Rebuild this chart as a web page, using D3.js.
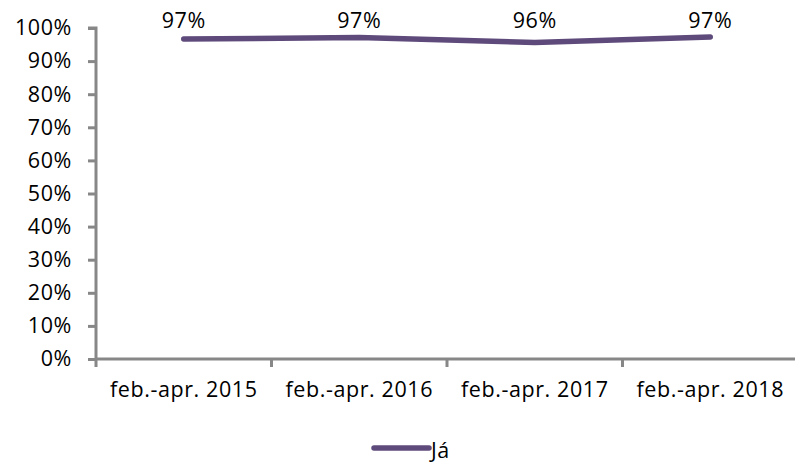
<!DOCTYPE html>
<html><head><meta charset="utf-8">
<script src="https://cdn.jsdelivr.net/npm/d3@7"></script>
<style>body{margin:0;background:#fff}</style>
</head><body>
<script>
const categories = ["feb.-apr. 2015","feb.-apr. 2016","feb.-apr. 2017","feb.-apr. 2018"];
const values = [0.967, 0.971, 0.956, 0.973];
const labels = ["97%","97%","96%","97%"];
const yTicks = [0,0.1,0.2,0.3,0.4,0.5,0.6,0.7,0.8,0.9,1.0];
const seriesName = "Já";

const W=795,H=464, FONT="'Open Sans', sans-serif", FS=21.5, LS=0.6;
const svg=d3.select("body").append("svg").attr("width",W).attr("height",H);
const x=d3.scaleBand().domain(categories).range([96,798]);
const y=d3.scaleLinear().domain([0,1]).range([359,28]);
const color="#5f4b7b", axisColor="#878787";
function styleText(sel){sel.attr("font-size",FS).attr("font-family",FONT).attr("fill","#000").attr("letter-spacing",LS);}

// y axis
const ya=svg.append("g").attr("transform","translate(96,0)")
  .call(d3.axisLeft(y).tickValues(yTicks).tickFormat(d3.format(".0%")).tickSize(8).tickPadding(16));
ya.select(".domain").attr("stroke",axisColor).attr("stroke-width",3).attr("d","M-8,"+y(1)+"H0V"+y(0));
ya.selectAll(".tick line").attr("stroke",axisColor).attr("stroke-width",3);
ya.selectAll(".tick text").call(styleText);

// x axis
const xa=svg.append("g").attr("transform","translate(0,359)")
  .call(d3.axisBottom(x).tickSize(0).tickPadding(23));
xa.select(".domain").attr("stroke",axisColor).attr("stroke-width",3).attr("d","M96,0H798");
xa.selectAll(".tick text").call(styleText);
svg.append("g").selectAll("line").data(categories.concat(["_end"])).join("line")
  .attr("x1",(d,i)=>96+i*x.step()).attr("x2",(d,i)=>96+i*x.step())
  .attr("y1",359).attr("y2",367).attr("stroke",axisColor).attr("stroke-width",3);

// line
const cx=d=>x(d)+x.bandwidth()/2;
svg.append("path").datum(categories)
  .attr("d",d3.line().x(d=>cx(d)).y((d,i)=>y(values[i])))
  .attr("fill","none").attr("stroke",color).attr("stroke-width",5.5).attr("stroke-linecap","round").attr("stroke-linejoin","round");

// data labels
svg.append("g").selectAll("text").data(categories).join("text")
  .attr("x",d=>cx(d)).attr("y",28).attr("text-anchor","middle")
  .call(styleText).text((d,i)=>labels[i]);

// legend
svg.append("line").attr("x1",374).attr("x2",429).attr("y1",448).attr("y2",448)
  .attr("stroke",color).attr("stroke-width",5.5).attr("stroke-linecap","round");
svg.append("text").attr("x",431).attr("y",458).call(styleText).text(seriesName);
</script>
</body></html>
